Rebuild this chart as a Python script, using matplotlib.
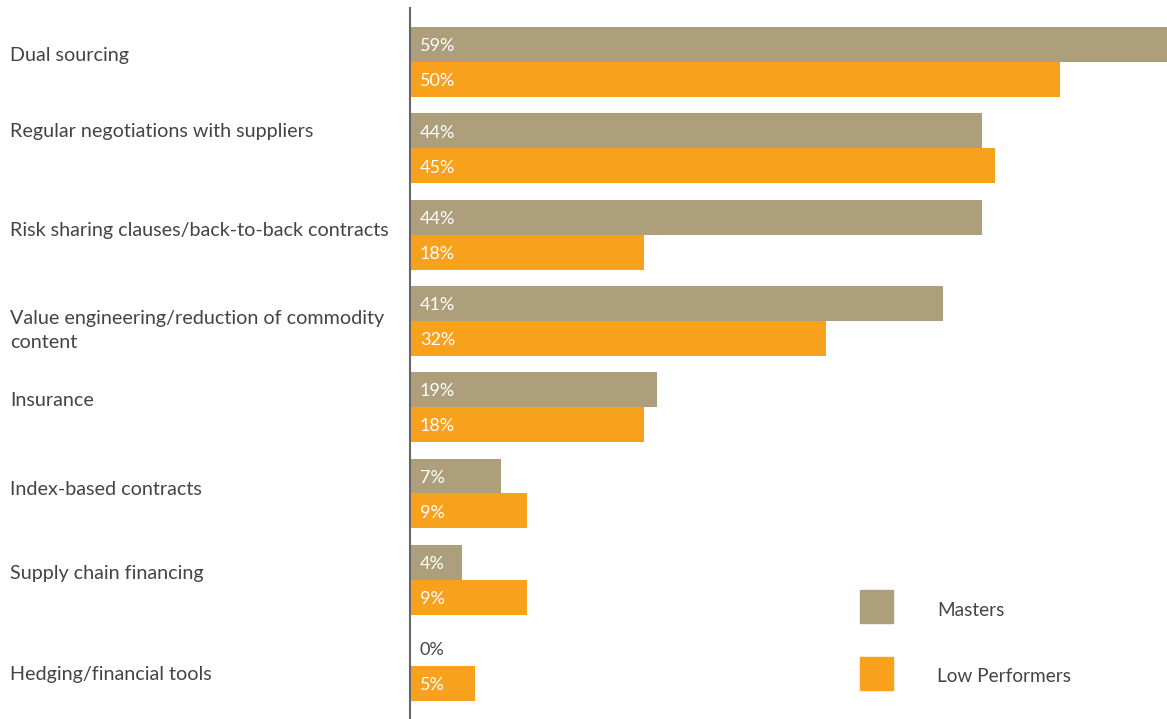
import numpy as np
import matplotlib.pyplot as plt
import matplotlib.transforms as mtransforms
from matplotlib.patches import Rectangle

# datos
categorias = ["Dual sourcing",
              "Regular negotiations with suppliers",
              "Risk sharing clauses/back-to-back contracts",
              "Value engineering/reduction of commodity\ncontent",
              "Insurance",
              "Index-based contracts",
              "Supply chain financing",
              "Hedging/financial tools"]
masters = [59, 44, 44, 41, 19, 7, 4, 0]
low_performers = [50, 45, 18, 32, 18, 9, 9, 5]
series = ["Masters", "Low Performers"]

# estilo
col_masters = "#ad9f7b"
col_low = "#f7a11d"
col_txt = "#444444"
plt.rcParams['font.family'] = ['Lato', 'DejaVu Sans']

W, H = 1167, 719
fig = plt.figure(figsize=(W/100, H/100), dpi=100)
ax = fig.add_axes([410/W, 0, 1 - 410/W, 711/H])

y = np.arange(len(categorias))
alto = 0.405
ax.barh(y - alto/2, masters, height=alto, color=col_masters)
ax.barh(y + alto/2, low_performers, height=alto, color=col_low)

ax.set_xlim(0, 58.2)
ax.set_ylim(7.614, -0.626)

# etiquetas de valor
for i in range(len(categorias)):
    for val, dy in ((masters[i], -alto/2), (low_performers[i], alto/2)):
        c = 'white' if val > 0 else col_txt
        ax.text(0.75, y[i] + dy + 0.02, "%d%%" % val, color=c, fontsize=13,
                va='center', ha='left')

# nombres de categoria
trans = mtransforms.blended_transform_factory(fig.transFigure, ax.transData)
desplaz = [-0.07, -0.19, -0.05, 0.11, -0.08, -0.05, -0.07, 0.10]
for i, cat in enumerate(categorias):
    ax.text(10/W, y[i] + desplaz[i], cat, transform=trans, fontsize=14.2,
            color=col_txt, va='center', ha='left', linespacing=1.45)

for s in ['top', 'right', 'bottom']:
    ax.spines[s].set_visible(False)
ax.spines['left'].set_color('#666666')
ax.spines['left'].set_linewidth(1.5)
ax.set_xticks([])
ax.set_yticks([])

# leyenda manual
for j, (nombre, col) in enumerate(zip(series, [col_masters, col_low])):
    y0 = [590, 657][j]
    fig.patches.append(Rectangle((860/W, 1 - (y0 + 33)/H), 33/W, 33/H,
                                 transform=fig.transFigure, color=col))
    fig.text(937/W, 1 - (y0 + 20)/H, nombre, fontsize=13.7, color=col_txt,
             va='center', ha='left')

fig.savefig("out.png", dpi=100)
